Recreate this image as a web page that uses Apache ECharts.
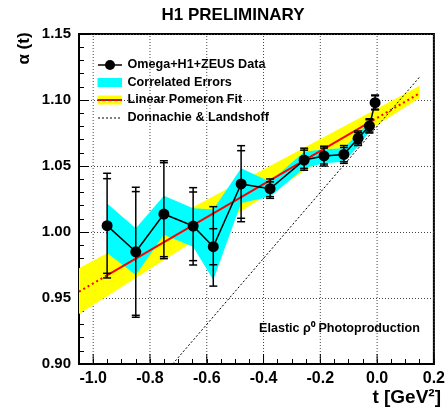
<!DOCTYPE html>
<html>
<head>
<meta charset="utf-8">
<script src="https://cdn.jsdelivr.net/npm/echarts@6/dist/echarts.min.js"></script>
<style>
html,body{margin:0;padding:0;background:#fff;}
#c{width:448px;height:416px;}
</style>
</head>
<body>
<div id="c"></div>
<script>
// ---- data ----
var tData   = [-0.951, -0.850, -0.751, -0.648, -0.577, -0.479, -0.377, -0.257, -0.187, -0.117, -0.067, -0.027, -0.007];
var alpha   = [1.0048, 0.9850, 1.0136, 1.0045, 0.9889, 1.0364, 1.0328, 1.0545, 1.0576, 1.0588, 1.0710, 1.0803, 1.0980];
var errOutHi= [1.0445, 1.0339, 1.0540, 1.0336, 1.0192, 1.0654, 1.0402, 1.0635, 1.0650, 1.0655, 1.0765, 1.0858, 1.1038];
var errInHi = [1.0404, 1.0306, 1.0525, 1.0303, 1.0025, 1.0616, 1.0380, 1.0620, 1.0636, 1.0640, 1.0753, 1.0850, 1.1032];
var errInLo = [0.9687, 0.9369, 0.9813, 0.9783, 0.9752, 1.0104, 1.0268, 1.0482, 1.0515, 1.0533, 1.0668, 1.0758, 1.0930];
var errOutLo= [0.9652, 0.9354, 0.9798, 0.9750, 0.9590, 1.0078, 1.0255, 1.0468, 1.0500, 1.0520, 1.0655, 1.0750, 1.0925];

var cyanT     = [-0.951, -0.850, -0.751, -0.648, -0.577, -0.479, -0.377, -0.257, -0.187, -0.117, -0.067, -0.027];
var cyanUpper = [1.0215, 1.0028, 1.0275, 1.0180, 1.0170, 1.0483, 1.0381, 1.0608, 1.0626, 1.0634, 1.0748, 1.0836];
var cyanLower = [0.9840, 0.9674, 0.9980, 0.9889, 0.9636, 1.0220, 1.0267, 1.0483, 1.0520, 1.0533, 1.0648, 1.0760];

var yellowT     = [-1.05, 0.15];
var yellowUpper = [0.9725, 1.1108];
var yellowLower = [0.9379, 1.1015];

var fitSolidT = [-0.95, -0.015];
var fitSolidA = [0.9674, 1.0845];
var fitLeftT  = [-1.05, -0.95];
var fitLeftA  = [0.9548, 0.9674];
var fitRightT = [-0.015, 0.15];
var fitRightA = [1.0845, 1.1052];

var dlT = [-0.72, 0.152];
var dlA = [0.900, 1.118];

var xTicks = [-1.0, -0.8, -0.6, -0.4, -0.2, 0.0, 0.2];
var yTicks = [0.90, 0.95, 1.00, 1.05, 1.10, 1.15];

var titleText = 'H1 PRELIMINARY';
var legendLabels = ['Omega+H1+ZEUS Data', 'Correlated Errors', 'Linear Pomeron Fit', 'Donnachie & Landshoff'];

// ---- chart ----
var chart = echarts.init(document.getElementById('c'), null, {renderer: 'canvas'});
var FONT = 'Liberation Sans, Arial, Helvetica, sans-serif';

function zip(a, b) { return a.map(function (v, i) { return [v, b[i]]; }); }

function bandRender(T, U, L, color) {
  return function (params, api) {
    var pts = [];
    for (var i = 0; i < T.length; i++) pts.push(api.coord([T[i], U[i]]));
    for (var j = T.length - 1; j >= 0; j--) pts.push(api.coord([T[j], L[j]]));
    return { type: 'polygon', shape: { points: pts }, style: { fill: color, stroke: null } };
  };
}

var errData = tData.map(function (t, i) { return [t, errOutLo[i], errInLo[i], errInHi[i], errOutHi[i]]; });

var option = {
  animation: false,
  grid: { left: 79, right: 7, top: 34, bottom: 52, show: true, borderColor: '#000', borderWidth: 2, backgroundColor: 'transparent' },
  xAxis: {
    type: 'value', min: -1.05, max: 0.2, interval: 0.05,
    axisLine: { show: true, onZero: false, lineStyle: { color: '#000', width: 2 } },
    axisTick: { show: true, inside: true, length: 5, lineStyle: { color: '#000', width: 1 } },
    splitLine: { show: false },
    axisLabel: {
      color: '#000', fontFamily: FONT, fontWeight: 'bold', fontSize: 16, margin: 7,
      showMinLabel: true, showMaxLabel: true,
      formatter: function (v) {
        for (var k = 0; k < xTicks.length; k++) if (Math.abs(v - xTicks[k]) < 1e-6) return xTicks[k].toFixed(1);
        return '';
      }
    }
  },
  yAxis: {
    type: 'value', min: 0.90, max: 1.15, interval: 0.05,
    axisLine: { show: true, onZero: false, lineStyle: { color: '#000', width: 2 } },
    axisTick: { show: true, inside: true, length: 10, lineStyle: { color: '#000', width: 1 } },
    minorTick: { show: true, splitNumber: 5, length: 5, lineStyle: { color: '#000', width: 1 } },
    splitLine: { show: true, lineStyle: { color: '#444', width: 1, type: [1, 2] } },
    axisLabel: {
      color: '#000', fontFamily: FONT, fontWeight: 'bold', fontSize: 15, margin: 8,
      formatter: function (v) { return v.toFixed(2); }
    }
  },
  series: [
    { // vertical grid lines
      type: 'custom', z: 1, silent: true, data: xTicks,
      renderItem: function (params, api) {
        var t = api.value(0);
        var p0 = api.coord([t, yTicks[0]]);
        var p1 = api.coord([t, yTicks[yTicks.length - 1]]);
        return { type: 'line', shape: { x1: p0[0], y1: p0[1], x2: p1[0], y2: p1[1] },
                 style: { stroke: '#444', lineWidth: 1, lineDash: [1, 2] } };
      }
    },
    { type: 'custom', z: 2, silent: true, data: [0], renderItem: bandRender(yellowT, yellowUpper, yellowLower, '#FFFF00') },
    { type: 'custom', z: 3, silent: true, data: [0], renderItem: bandRender(cyanT, cyanUpper, cyanLower, '#00FFFF') },
    { type: 'line', z: 4, silent: true, data: zip(fitSolidT, fitSolidA), symbol: 'none', lineStyle: { color: '#FF0000', width: 2 } },
    { type: 'line', z: 4, silent: true, data: zip(fitLeftT, fitLeftA), symbol: 'none', lineStyle: { color: '#FF0000', width: 2, type: [2, 3] } },
    { type: 'line', z: 4, silent: true, data: zip(fitRightT, fitRightA), symbol: 'none', lineStyle: { color: '#FF0000', width: 2, type: [2, 3] } },
    { type: 'line', z: 4, silent: true, data: zip(dlT, dlA), symbol: 'none', lineStyle: { color: '#000', width: 1, type: [2, 2] } },
    { // error bars
      type: 'custom', z: 5, silent: true, data: errData,
      renderItem: function (params, api) {
        var t = api.value(0);
        var ys = [api.value(1), api.value(2), api.value(3), api.value(4)].map(function (v) { return api.coord([t, v]); });
        var ch = [{ type: 'line', shape: { x1: ys[0][0], y1: ys[0][1], x2: ys[3][0], y2: ys[3][1] }, style: { stroke: '#000', lineWidth: 1.5 } }];
        ys.forEach(function (p) {
          ch.push({ type: 'line', shape: { x1: p[0] - 4, y1: p[1], x2: p[0] + 4, y2: p[1] }, style: { stroke: '#000', lineWidth: 1.5 } });
        });
        return { type: 'group', children: ch };
      }
    },
    { type: 'line', z: 6, silent: true, data: zip(tData, alpha), symbol: 'circle', symbolSize: 11,
      itemStyle: { color: '#000' }, lineStyle: { color: '#000', width: 1.5 } },
    { // major x ticks
      type: 'custom', z: 7, silent: true, data: xTicks,
      renderItem: function (params, api) {
        var p0 = api.coord([api.value(0), yTicks[0]]);
        return { type: 'line', shape: { x1: p0[0], y1: p0[1], x2: p0[0], y2: p0[1] - 10 },
                 style: { stroke: '#000', lineWidth: 1 } };
      }
    }
  ],
  graphic: [
    { type: 'text', style: { text: titleText, x: 233, y: 15, font: 'bold 17px ' + FONT, fill: '#000', textAlign: 'center', textVerticalAlign: 'middle', align: 'center', verticalAlign: 'middle' } },
    { type: 'text', rotation: Math.PI / 2, x: 24.5, y: 48.5, style: { text: 'α (t)', x: 0, y: 0, font: 'bold 17px ' + FONT, fill: '#000', textAlign: 'center', textVerticalAlign: 'middle', align: 'center', verticalAlign: 'middle' } },
    { type: 'text', style: { text: 't [GeV²]', x: 441, y: 398, font: 'bold 19px ' + FONT, fill: '#000', textAlign: 'right', textVerticalAlign: 'middle', align: 'right', verticalAlign: 'middle' } },
    { type: 'text', style: { text: 'Elastic ρ⁰ Photoproduction', x: 259, y: 329, font: 'bold 12.6px ' + FONT, fill: '#000', textAlign: 'left', textVerticalAlign: 'middle', align: 'left', verticalAlign: 'middle' } },
    // legend
    { type: 'line', shape: { x1: 98, y1: 65, x2: 122, y2: 65 }, style: { stroke: '#000', lineWidth: 1.5 } },
    { type: 'circle', shape: { cx: 110, cy: 65, r: 5 }, style: { fill: '#000' } },
    { type: 'rect', shape: { x: 97.5, y: 78, width: 24.5, height: 9 }, style: { fill: '#00FFFF' } },
    { type: 'rect', shape: { x: 97.5, y: 95.5, width: 24.5, height: 9 }, style: { fill: '#FFFF00' } },
    { type: 'line', shape: { x1: 97.5, y1: 100, x2: 122, y2: 100 }, style: { stroke: '#FF0000', lineWidth: 2 } },
    { type: 'line', shape: { x1: 98, y1: 118, x2: 122, y2: 118 }, style: { stroke: '#000', lineWidth: 1, lineDash: [2, 2] } },
    { type: 'text', style: { text: legendLabels[0], x: 127.5, y: 65, font: 'bold 12.6px ' + FONT, fill: '#000', textVerticalAlign: 'middle', verticalAlign: 'middle' } },
    { type: 'text', style: { text: legendLabels[1], x: 127.5, y: 82.5, font: 'bold 12.6px ' + FONT, fill: '#000', textVerticalAlign: 'middle', verticalAlign: 'middle' } },
    { type: 'text', style: { text: legendLabels[2], x: 127.5, y: 100, font: 'bold 12.6px ' + FONT, fill: '#000', textVerticalAlign: 'middle', verticalAlign: 'middle' } },
    { type: 'text', style: { text: legendLabels[3], x: 127.5, y: 118, font: 'bold 12.6px ' + FONT, fill: '#000', textVerticalAlign: 'middle', verticalAlign: 'middle' } }
  ]
};
chart.setOption(option);
</script>
</body>
</html>
